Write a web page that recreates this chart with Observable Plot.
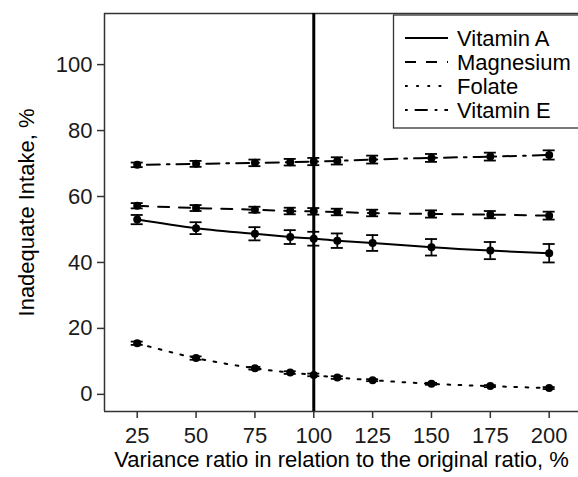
<!DOCTYPE html>
<html>
<head>
<meta charset="utf-8">
<script src="https://cdn.jsdelivr.net/npm/d3@7"></script>
<script src="https://cdn.jsdelivr.net/npm/@observablehq/plot@0.6"></script>
<style>
  html, body { margin: 0; padding: 0; background: #fff; overflow: hidden; }
  #wrap { position: relative; width: 578px; height: 477px; }
  #legend { position: absolute; left: 0; top: 0; pointer-events: none; }
  svg { font-family: "Liberation Sans", Arial, Helvetica, sans-serif; }
</style>
</head>
<body>
<div id="wrap"></div>
<script>
// ---- data ----
const ratios = [25, 50, 75, 90, 100, 110, 125, 150, 175, 200];
const xTicks = [25, 50, 75, 100, 125, 150, 175, 200];
const yTicks = [0, 20, 40, 60, 80, 100];
const nutrients = ["Vitamin A", "Magnesium", "Folate", "Vitamin E"];
const vitA     = [53.0, 50.4, 48.7, 47.7, 47.2, 46.6, 45.9, 44.6, 43.6, 42.8];
const vitAErr  = [1.4, 1.8, 2.0, 2.1, 2.1, 2.2, 2.4, 2.5, 2.6, 2.8];
const magn     = [57.2, 56.5, 56.0, 55.6, 55.5, 55.3, 55.0, 54.7, 54.5, 54.2];
const magnErr  = [0.8, 0.9, 0.9, 1.0, 1.0, 1.0, 1.0, 1.1, 1.1, 1.2];
const folate   = [15.5, 11.0, 7.9, 6.6, 5.9, 5.1, 4.3, 3.2, 2.5, 1.9];
const folErr   = [0.5, 0.5, 0.4, 0.4, 0.4, 0.4, 0.3, 0.3, 0.3, 0.3];
const vitE     = [69.6, 69.9, 70.2, 70.4, 70.6, 70.8, 71.2, 71.7, 72.1, 72.6];
const vitEErr  = [0.7, 0.9, 1.0, 1.0, 1.1, 1.1, 1.2, 1.2, 1.2, 1.4];
const refRatio = [100];
const xTitle = "Variance ratio in relation to the original ratio, %";
const yTitle = "Inadequate Intake, %";

const series = [
  {name: nutrients[0], v: vitA, e: vitAErr, dash: null},
  {name: nutrients[1], v: magn, e: magnErr, dash: "11,10"},
  {name: nutrients[2], v: folate, e: folErr, dash: "2.7,8.5"},
  {name: nutrients[3], v: vitE, e: vitEErr, dash: "2.7,7,13,7"}
];

const rows = series.flatMap(s => ratios.map((r, i) => ({
  nutrient: s.name, ratio: r, value: s.v[i], lo: s.v[i] - s.e[i], hi: s.v[i] + s.e[i]
})));

const xDomain = [11.1, 213.9];
const yDomain = [-5.2, 115.5];
const FS = 22;

const marks = [];
// panel border (top, bottom, left; right edge lies outside the picture)
marks.push(Plot.ruleY([yDomain[0], yDomain[1]], {stroke: "#333", strokeWidth: 1.5}));
marks.push(Plot.ruleX([xDomain[0]], {stroke: "#333", strokeWidth: 1.5}));
// reference line
marks.push(Plot.ruleX(refRatio, {stroke: "#000", strokeWidth: 3}));
for (const s of series) {
  const d = rows.filter(r => r.nutrient === s.name);
  marks.push(Plot.line(d, {x: "ratio", y: "value", curve: "natural", stroke: "#000", strokeWidth: 2,
    strokeDasharray: s.dash || undefined}));
  marks.push(Plot.ruleX(d, {x: "ratio", y1: "lo", y2: "hi", stroke: "#000", strokeWidth: 1.8}));
  marks.push(Plot.ruleY(d, {y: "lo", x1: "ratio", x2: "ratio", insetLeft: -6, insetRight: -6, stroke: "#000", strokeWidth: 1.8}));
  marks.push(Plot.ruleY(d, {y: "hi", x1: "ratio", x2: "ratio", insetLeft: -6, insetRight: -6, stroke: "#000", strokeWidth: 1.8}));
  marks.push(Plot.dot(d, {x: "ratio", y: "value", r: 4, fill: "#000", stroke: null}));
}
marks.push(Plot.axisX({ticks: xTicks, tickSize: 7, tickPadding: 9, fontSize: FS, label: null, stroke: "#333", strokeWidth: 1.5, color: "#1a1a1a"}));
marks.push(Plot.axisY({ticks: yTicks, tickSize: 7, tickPadding: 5, fontSize: FS, label: null, stroke: "#333", strokeWidth: 1.5, color: "#1a1a1a"}));
marks.push(Plot.text([xTitle], {frameAnchor: "bottom", textAnchor: "middle", dy: 55, fontSize: FS, fill: "#000"}));
marks.push(Plot.text([yTitle], {frameAnchor: "left", textAnchor: "middle", dx: -78, rotate: -90, fontSize: FS, fill: "#000"}));

const chart = Plot.plot({
  width: 578,
  height: 477,
  marginTop: 13,
  marginBottom: 66,
  marginLeft: 104,
  marginRight: 0,
  x: {domain: xDomain, range: [104, 581.4]},
  y: {domain: yDomain},
  style: {fontFamily: "'Liberation Sans', Arial, Helvetica, sans-serif", background: "#fff"},
  marks
});
const wrap = document.getElementById("wrap");
wrap.appendChild(chart);

// legend overlay (drawn with d3)
const lg = d3.select(wrap).append("svg").attr("id", "legend").attr("width", 578).attr("height", 477)
  .style("font-family", "'Liberation Sans', Arial, Helvetica, sans-serif");
lg.append("rect").attr("x", 393.5).attr("y", 15).attr("width", 200).attr("height", 113)
  .attr("fill", "#fff").attr("stroke", "#333").attr("stroke-width", 1.3);
series.forEach((s, i) => {
  const cy = 38 + i * 24;
  lg.append("line").attr("x1", 405).attr("x2", 448).attr("y1", cy).attr("y2", cy)
    .attr("stroke", "#000").attr("stroke-width", 2).attr("stroke-dasharray", s.dash);
  lg.append("text").attr("x", 457).attr("y", cy).attr("dy", "0.35em").attr("font-size", FS)
    .attr("fill", "#000").text(s.name);
});
</script>
</body>
</html>
